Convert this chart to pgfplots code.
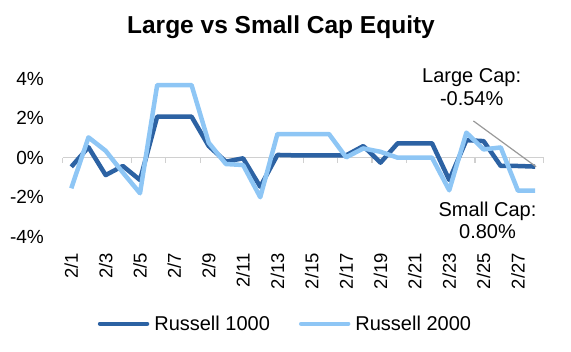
\documentclass[border=0pt]{standalone}
\usepackage{pgfplots}
\pgfplotsset{compat=1.18}
\usepackage{fontspec}
\setmainfont{Liberation Sans}
\definecolor{darkblue}{RGB}{44,98,163}
\definecolor{lightblue}{RGB}{142,198,245}
\definecolor{axisgray}{RGB}{208,208,208}
\begin{document}
\begin{tikzpicture}
\path[use as bounding box] (0,0) rectangle (571bp,352bp);
% zero line with tick marks
\begin{axis}[
  at={(62.7bp,115.3bp)}, anchor=south west,
  scale only axis, width=481bp, height=158bp,
  xmin=-0.5, xmax=27.5, ymin=-4, ymax=4,
  axis x line=middle, axis y line=none,
  axis line style={draw=axisgray, line width=1.5bp, -},
  xtick={-0.5,1.5,...,27.5}, xticklabels={},
  ytick=\empty,
  x tick style={draw=axisgray, line width=1.2bp},
  xtick align=outside, major tick length=5bp,
]
\end{axis}
\begin{axis}[
  at={(62.7bp,115.3bp)}, anchor=south west,
  scale only axis, width=481bp, height=158bp,
  xmin=-0.5, xmax=27.5, ymin=-4, ymax=4,
  axis line style={draw=none},
  tick style={draw=none},
  xtick={0,2,...,26},
  xticklabels={2/1,2/3,2/5,2/7,2/9,2/11,2/13,2/15,2/17,2/19,2/21,2/23,2/25,2/27},
  ytick={-4,-2,0,2,4},
  yticklabels={-4\%,-2\%,0\%,2\%,4\%},
  xticklabel style={rotate=90, anchor=east, inner sep=0pt, font=\fontsize{18.5bp}{22bp}\selectfont},
  yticklabel style={anchor=east, inner sep=0pt, font=\fontsize{19bp}{22bp}\selectfont},
  xticklabel shift=16.3bp,
  yticklabel shift=18.7bp,
  clip=false,
  legend columns=2,
  legend style={at={(0.461,-0.551)}, anchor=center, draw=none, fill=none,
    font=\fontsize{20bp}{24bp}\selectfont,
    /tikz/every even column/.append style={column sep=29bp},
    nodes={inner sep=0pt},
  },
  legend image code/.code={\draw[#1, line cap=round] (0bp,0bp) -- (47bp,0bp);},
  legend cell align=left,
]
\addplot[darkblue, line width=4.5bp, line join=round] coordinates {
(0,-0.46) (1,0.53) (2,-0.88) (3,-0.42) (4,-1.13) (5,2.08) (6,2.08) (7,2.08)
(8,0.59) (9,-0.2) (10,-0.03) (11,-1.47) (12,0.14) (13,0.12) (14,0.12) (15,0.12)
(16,0.12) (17,0.59) (18,-0.25) (19,0.73) (20,0.73) (21,0.73) (22,-1.13) (23,0.89)
(24,0.84) (25,-0.42) (26,-0.42) (27,-0.45)
};
\addlegendentry{\hspace{5bp}Russell 1000}
\addplot[lightblue, line width=4.5bp, line join=round] coordinates {
(0,-1.55) (1,1.03) (2,0.35) (3,-0.75) (4,-1.8) (5,3.68) (6,3.68) (7,3.68)
(8,0.76) (9,-0.32) (10,-0.37) (11,-2.0) (12,1.2) (13,1.2) (14,1.2) (15,1.2)
(16,0.02) (17,0.47) (18,0.3) (19,0.0) (20,0.0) (21,0.0) (22,-1.65) (23,1.27)
(24,0.42) (25,0.52) (26,-1.67) (27,-1.67)
};
\addlegendentry{\hspace{5bp}Russell 2000}
\draw[gray!80, line width=1.2bp] (axis cs:23.41,1.86) -- (axis cs:27.06,-0.46);
\end{axis}
\node[anchor=base, inner sep=0pt, font=\fontsize{24.5bp}{28bp}\selectfont\bfseries] at (281bp,318.7bp) {Large vs Small Cap Equity};
\node[anchor=base, inner sep=0pt, font=\fontsize{20bp}{24bp}\selectfont] at (471.7bp,269.3bp) {Large Cap:};
\node[anchor=base, inner sep=0pt, font=\fontsize{20bp}{24bp}\selectfont] at (471.7bp,246bp) {-0.54\%};
\node[anchor=base, inner sep=0pt, font=\fontsize{20bp}{24bp}\selectfont] at (487.5bp,135.3bp) {Small Cap:};
\node[anchor=base, inner sep=0pt, font=\fontsize{20bp}{24bp}\selectfont] at (487.5bp,113.7bp) {0.80\%};
\end{tikzpicture}
\end{document}
